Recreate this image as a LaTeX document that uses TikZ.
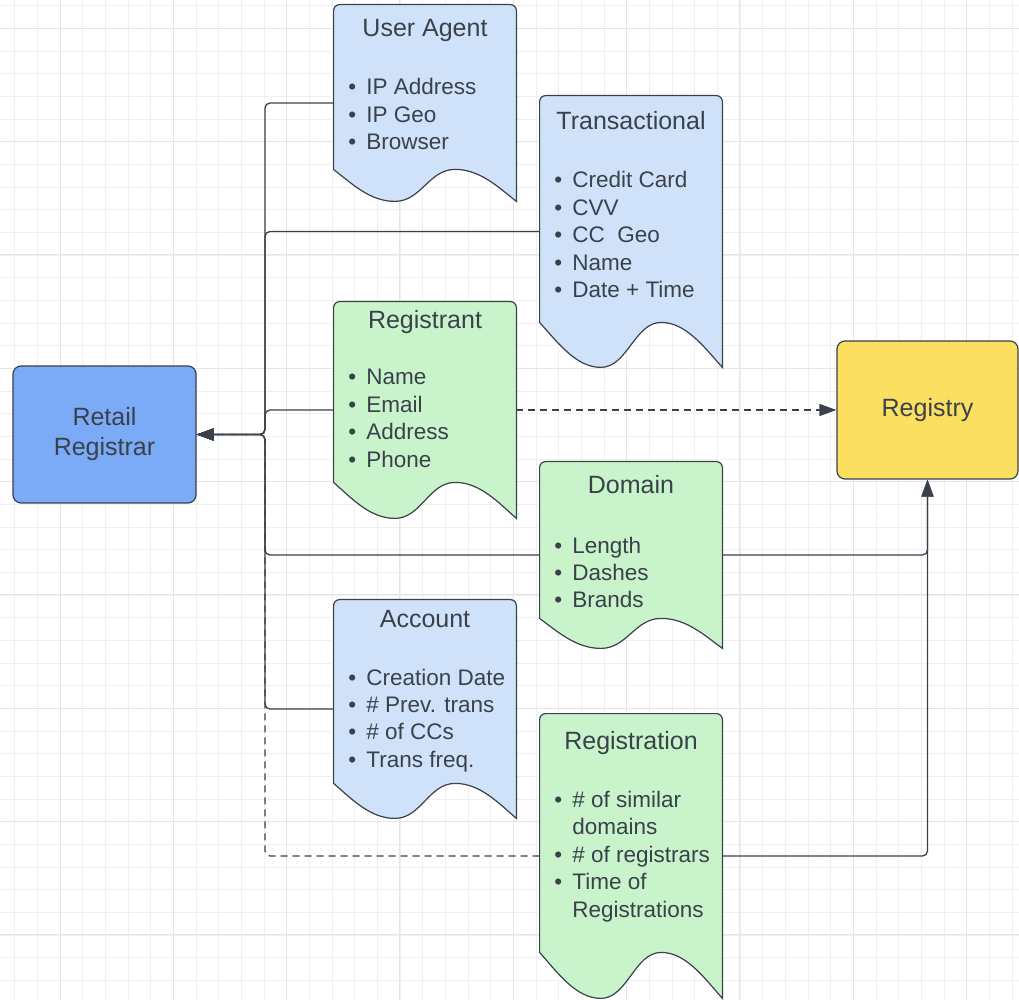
\documentclass[tikz,border=0pt]{standalone}
\usepackage{fontspec}
\setmainfont{Liberation Sans}
\usetikzlibrary{arrows.meta,calc,positioning,backgrounds}

\definecolor{inkgray}{RGB}{58,65,74}
\definecolor{rrblue}{RGB}{123,170,247}
\definecolor{regyellow}{RGB}{250,223,96}
\definecolor{docblue}{RGB}{208,226,250}
\definecolor{docgreen}{RGB}{201,244,203}
\definecolor{gridminor}{RGB}{239,239,239}
\definecolor{gridmajor}{RGB}{229,229,229}

\newcommand{\docitem}{\makebox[9pt][l]{\textbullet}}
\newcommand{\docindent}{\makebox[9pt]{}}

\tikzset{
  mainbox/.style={draw=inkgray, line width=0.6pt, rounded corners=4pt,
    minimum width=91.5pt, minimum height=68.5pt, align=center,
    font=\fontsize{12.5}{15}\selectfont, text=inkgray},
  docbox/.style={minimum width=91pt, inner sep=0pt},
  docedge/.style={draw=inkgray, line width=0.6pt},
  doctitle/.style={anchor=base, inner sep=0pt, text=inkgray,
    font=\fontsize{12.5}{15}\selectfont},
  % base of a multi-line node is the baseline of its last line
  doclist/.style={anchor=base west, inner sep=0pt, align=left, text=inkgray,
    font=\fontsize{11.25}{13.75}\selectfont},
  conn/.style={draw=inkgray, line width=0.65pt, rounded corners=2.5pt},
  dashconn/.style={conn, dash pattern=on 3.5pt off 2.5pt},
  toarrow/.style={-{Triangle[length=8.5pt,width=6pt]}},
}

\begin{document}
\begin{tikzpicture}[x=0.5pt, y=-0.5pt]
\useasboundingbox (0,0) rectangle (1019,1000);
% Registrar and registry
\node[mainbox, fill=rrblue] (rr) at (104.5,434.5) {Retail\\Registrar};
\node[mainbox, fill=regyellow, minimum width=90.5pt, minimum height=69pt] (registry) at (927.5,410) {Registry};
% Document boxes (outline drawn below)
\node[docbox, minimum height=98pt] (ua) at (425,103) {};
\node[docbox, minimum height=135.5pt] (trans) at (631,231.5) {};
\node[docbox, minimum height=108pt] (registrant) at (425,410) {};
\node[docbox, minimum height=93pt] (domain) at (631,555) {};
\node[docbox, minimum height=109pt] (account) at (425,709) {};
\node[docbox, minimum height=142pt] (registration) at (631,856) {};
% Titles
\node[doctitle] (ua-t) at (425,37) {User Agent};
\node[doctitle] (trans-t) at (631,130) {Transactional};
\node[doctitle] (registrant-t) at (425,329) {Registrant};
\node[doctitle] (domain-t) at (631,494) {Domain};
\node[doctitle] (account-t) at (425,627) {Account};
\node[doctitle] (registration-t) at (631,749) {Registration};
% Bullet lists
\node[doclist] (ua-l) at (348,150) {\docitem IP Address\\\docitem IP Geo\\\docitem Browser};
\node[doclist] (trans-l) at (554,298) {\docitem Credit Card\\\docitem CVV\\\docitem CC\ \ Geo\\\docitem Name\\\docitem Date + Time};
\node[doclist] (registrant-l) at (348,467.5) {\docitem Name\\\docitem Email\\\docitem Address\\\docitem Phone};
\node[doclist] (domain-l) at (554,608) {\docitem Length\\\docitem Dashes\\\docitem Brands};
\node[doclist] (account-l) at (348,767.5) {\docitem Creation Date\\\docitem \# Prev. trans\\\docitem \# of CCs\\\docitem Trans freq.};
\node[doclist] (registration-l) at (554,917) {\docitem \# of similar\\\docindent domains\\\docitem \# of registrars\\\docitem Time of\\\docindent Registrations};

\begin{scope}[on background layer]
% Grid
\fill[white] (0,0) rectangle (1019,1000);
\foreach \i in {0,...,44} {
  \draw[gridminor, line width=0.5pt] ({14.67+22.667*\i},0) -- ++(0,1000);
  \draw[gridminor, line width=0.5pt] (0,{5.67+22.667*\i}) -- ++(1019,0);
}
\foreach \i in {0,...,8} {
  \draw[gridmajor, line width=0.5pt] ({60+113.33*\i},0) -- ++(0,1000);
  \draw[gridmajor, line width=0.5pt] (0,{28.33+113.33*\i}) -- ++(1019,0);
}
% Document outlines with wavy bottom
\foreach \n/\c/\a in {ua/docblue/32, trans/docblue/45, registrant/docgreen/36,
    domain/docgreen/30, account/docblue/35, registration/docgreen/46} {
  \draw[docedge, fill=\c] (\n.south east)
    [rounded corners=3pt] -- (\n.north east) -- (\n.north west)
    [sharp corners] -- ($(\n.south west)+(0,-\a)$)
    .. controls ($(\n.south west)!0.1!(\n.south east)+(0,-0.55*\a)$) and ($(\n.south west)!0.2!(\n.south east)$)
    .. ($(\n.south west)!0.335!(\n.south east)$)
    .. controls ($(\n.south west)!0.48!(\n.south east)$) and ($(\n.south west)!0.52!(\n.south east)+(0,-\a)$)
    .. ($(\n.south west)!0.665!(\n.south east)+(0,-\a)$)
    .. controls ($(\n.south west)!0.8!(\n.south east)+(0,-\a)$) and ($(\n.south west)!0.9!(\n.south east)+(0,-0.45*\a)$)
    .. (\n.south east) -- cycle;
}
\end{scope}

% Connectors to the retail registrar
\coordinate (trunk) at (265,0);
\draw[dashconn] (registration.west) -| (trunk |- rr.east) -- (rr.east);
\foreach \d in {ua,trans,registrant,domain,account}
  \draw[conn, toarrow] (\d.west) -| (trunk |- rr.east) -- (rr.east);
% Connectors to the registry
\draw[dashconn, toarrow] (registrant.east) -- (registry.west);
\draw[conn, toarrow] (domain.east) -| (registry.south);
\draw[conn, toarrow] (registration.east) -| (registry.south);
\end{tikzpicture}
\end{document}
